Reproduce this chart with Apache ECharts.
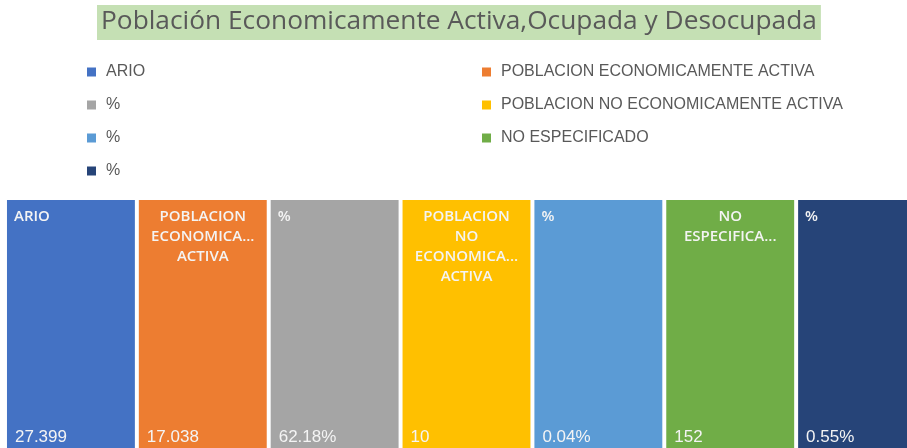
<!DOCTYPE html>
<html>
<head>
<meta charset="utf-8">
<script src="https://cdn.jsdelivr.net/npm/echarts@6/dist/echarts.min.js"></script>
<style>
html, body { margin: 0; padding: 0; background: #fff; }
#chart { width: 907px; height: 448px; }
</style>
</head>
<body>
<div id="chart"></div>
<script>
// categories as shown in the legend (Excel order)
var categories = ['ARIO', 'POBLACION ECONOMICAMENTE ACTIVA', '%', 'POBLACION NO ECONOMICAMENTE ACTIVA', '%', 'NO ESPECIFICADO', '%'];
// text written inside each box (wrapped / truncated like the picture)
var boxLabels = ['ARIO', 'POBLACION\nECONOMICA...\nACTIVA', '%', 'POBLACION\nNO\nECONOMICA...\nACTIVA', '%', 'NO\nESPECIFICA...', '%'];
// value shown at the bottom of each box
var valueLabels = ['27.399', '17.038', '62.18%', '10', '0.04%', '152', '0.55%'];
// box sizes (all boxes are drawn the same size)
var boxSizes = [1, 1, 1, 1, 1, 1, 1];
var colors = ['#4472C4', '#ED7D31', '#A5A5A5', '#FFC000', '#5B9BD5', '#70AD47', '#264478'];

var chart = echarts.init(document.getElementById('chart'));

// series names must be unique, the repeated '%' gets trailing spaces
var names = [];
for (var i = 0; i < categories.length; i++) {
	var n = categories[i];
	while (names.indexOf(n) >= 0) n += ' ';
	names.push(n);
}

var series = [];
for (var i = 0; i < categories.length; i++) {
	var data = [];
	for (var j = 0; j < categories.length; j++) data.push(j == i ? boxSizes[j] : '-');
	var wrapped = boxLabels[i].indexOf('\n') >= 0;
	series.push({
		name: names[i],
		type: 'bar',
		barWidth: '97%',
		barGap: '-100%',
		itemStyle: { color: colors[i] },
		emphasis: { disabled: true },
		label: {
			show: true,
			position: wrapped ? 'insideTop' : 'insideTopLeft',
			distance: 7,
			align: wrapped ? 'center' : 'left',
			formatter: boxLabels[i],
			color: '#F4F4F4',
			fontFamily: 'Open Sans',
			fontWeight: 600,
			fontSize: 15,
			lineHeight: 20
		},
		data: data
	});
}
// transparent overlay carrying the bottom value labels
series.push({
	name: 'values',
	type: 'bar',
	barWidth: '97%',
	barGap: '-100%',
	silent: true,
	itemStyle: { color: 'rgba(0,0,0,0)' },
	label: {
		show: true,
		position: 'insideBottomLeft',
		distance: 8,
		formatter: function (p) { return valueLabels[p.dataIndex]; },
		color: '#F4F4F4',
		fontFamily: 'Liberation Sans',
		fontSize: 17
	},
	data: boxSizes
});

var leftNames = [], rightNames = [];
for (var i = 0; i < names.length; i++) {
	if (i % 2 == 0) leftNames.push(names[i]); else rightNames.push(names[i]);
}
var legendBase = {
	orient: 'vertical',
	top: 59,
	icon: 'rect',
	itemWidth: 9,
	itemHeight: 9,
	itemGap: 17,
	selectedMode: false,
	formatter: function (name) { return name.trim(); },
	textStyle: { color: '#595959', fontFamily: 'Liberation Sans', fontSize: 16, padding: [0, 0, 0, 5] }
};

var option = {
	animation: false,
	title: {
		text: 'Población Economicamente Activa,Ocupada y Desocupada',
		left: 97,
		top: 5,
		backgroundColor: '#C5E0B4',
		padding: [4, 4, 5, 4],
		textStyle: { color: '#595959', fontFamily: 'Open Sans', fontWeight: 'normal', fontSize: 26.3 }
	},
	legend: [
		Object.assign({}, legendBase, { left: 82, data: leftNames }),
		Object.assign({}, legendBase, { left: 477, data: rightNames })
	],
	grid: { left: 5, top: 200, width: 923, height: 254, outerBoundsMode: 'none' },
	xAxis: {
		type: 'category',
		data: names,
		show: false
	},
	yAxis: {
		type: 'value',
		min: 0,
		max: 1,
		show: false
	},
	series: series
};
chart.setOption(option);
</script>
</body>
</html>
